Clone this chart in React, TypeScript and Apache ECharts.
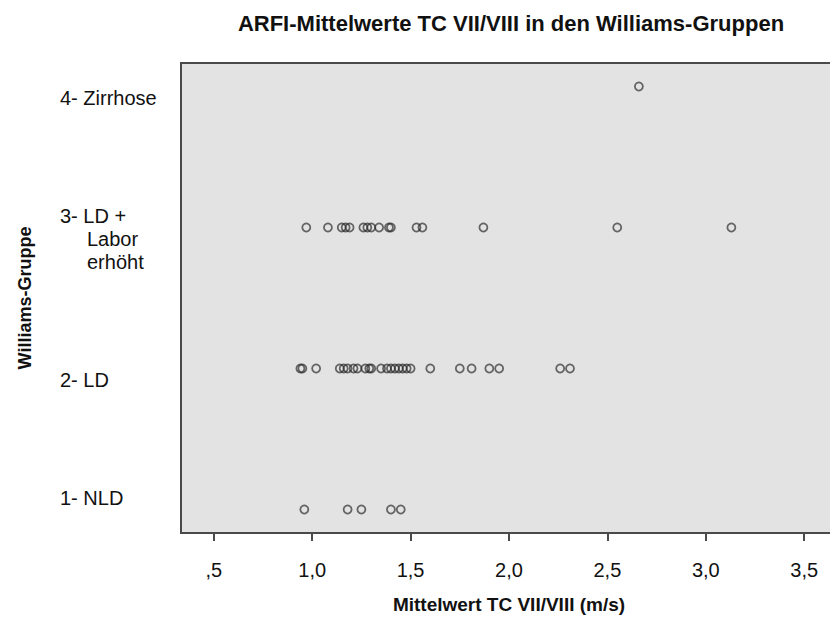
import React, { useEffect, useRef } from "react";
import * as echarts from "echarts";

// Mean ARFI velocity (m/s) of TC VII/VIII per Williams group
const groupLabels = ["1- NLD", "2- LD", "3- LD +\nLabor\nerhöht", "4- Zirrhose"];
const nldValues = [0.96, 1.18, 1.25, 1.4, 1.45];
const ldValues = [
  0.94, 0.95, 1.02, 1.14, 1.16, 1.18, 1.21, 1.23, 1.27, 1.29, 1.3, 1.35, 1.38,
  1.4, 1.42, 1.44, 1.46, 1.48, 1.5, 1.6, 1.75, 1.81, 1.9, 1.95, 2.26, 2.31,
];
const ldLaborValues = [
  0.97, 1.08, 1.15, 1.17, 1.19, 1.26, 1.28, 1.3, 1.34, 1.39, 1.4, 1.53, 1.56,
  1.87, 2.55, 3.13,
];
const zirrhoseValues = [2.66];
const xTicks = [0.5, 1.0, 1.5, 2.0, 2.5, 3.0, 3.5];

const FONT = '"Liberation Sans", Arial, sans-serif';
const TEXT = "#111";

const groups = [nldValues, ldValues, ldLaborValues, zirrhoseValues];

function yLabel(v: number): string {
  const idx = Math.round(v) - 1;
  const lines = (groupLabels[idx] || "").split("\n");
  const body = lines
    .map((l, i) => (i === 0 ? `{a|${l}}` : `{b|${l}}`))
    .join("\n");
  if (idx === 0) return body + "\n{pad| }";
  return "{pad| }\n" + body;
}

export default function App() {
  const ref = useRef<HTMLDivElement>(null);

  useEffect(() => {
    if (!ref.current) return;
    const chart = echarts.init(ref.current, null, { renderer: "svg" });
    const scatterData = groups.flatMap((vals, gi) =>
      vals.map((x) => [x, gi + 1])
    );
    chart.setOption({
      animation: false,
      backgroundColor: "#fff",
      textStyle: { fontFamily: FONT },
      title: {
        text: "ARFI-Mittelwerte TC VII/VIII in den Williams-Gruppen",
        left: 506,
        top: 7,
        textAlign: "center",
        textStyle: {
          fontFamily: FONT,
          fontSize: 22,
          fontWeight: "bold",
          color: TEXT,
        },
      },
      grid: {
        left: 181,
        top: 63,
        width: 656,
        height: 470,
        show: true,
        backgroundColor: "#e3e3e3",
        borderColor: "#4a4a4a",
        borderWidth: 2,
        containLabel: false,
      },
      xAxis: {
        type: "value",
        min: 1 / 3,
        max: 11 / 3,
        name: "Mittelwert TC VII/VIII (m/s)",
        nameLocation: "middle",
        nameGap: 62,
        nameTextStyle: {
          fontFamily: FONT,
          fontSize: 19,
          fontWeight: "bold",
          color: TEXT,
        },
        axisLine: { show: false },
        splitLine: { show: false },
        axisTick: {
          show: true,
          customValues: xTicks,
          length: 8,
          lineStyle: { color: "#4a4a4a", width: 2 },
        },
        axisLabel: {
          customValues: xTicks,
          margin: 27,
          fontFamily: FONT,
          fontSize: 20,
          color: TEXT,
          formatter: (v: number) =>
            v < 1 ? "," + String(Math.round(v * 10)) : v.toFixed(1).replace(".", ","),
        },
      },
      yAxis: {
        type: "value",
        min: 5 / 6,
        max: 25 / 6,
        name: "Williams-Gruppe",
        nameLocation: "middle",
        nameGap: 147,
        nameTextStyle: {
          fontFamily: FONT,
          fontSize: 18,
          fontWeight: "bold",
          color: TEXT,
        },
        axisLine: { show: false },
        axisTick: { show: false },
        splitLine: { show: false },
        axisLabel: {
          customValues: [1, 2, 3, 4],
          align: "left",
          margin: 121,
          formatter: yLabel,
          rich: {
            a: { fontFamily: FONT, fontSize: 20, lineHeight: 23, color: TEXT },
            b: {
              fontFamily: FONT,
              fontSize: 20,
              lineHeight: 23,
              color: TEXT,
              padding: [0, 0, 0, 27],
            },
            pad: { fontFamily: FONT, fontSize: 20, lineHeight: 23 },
          },
        },
      },
      series: [
        {
          type: "scatter",
          data: scatterData,
          symbol: "circle",
          symbolSize: 8,
          itemStyle: {
            color: "transparent",
            borderColor: "rgba(40,40,40,0.85)",
            borderWidth: 1.8,
          },
        },
      ],
    });
    return () => chart.dispose();
  }, []);

  // The plot frame runs past the right edge of the 830px window
  return (
    <div
      ref={ref}
      style={{ position: "fixed", left: 0, top: 0, width: 850, height: 619 }}
    />
  );
}
